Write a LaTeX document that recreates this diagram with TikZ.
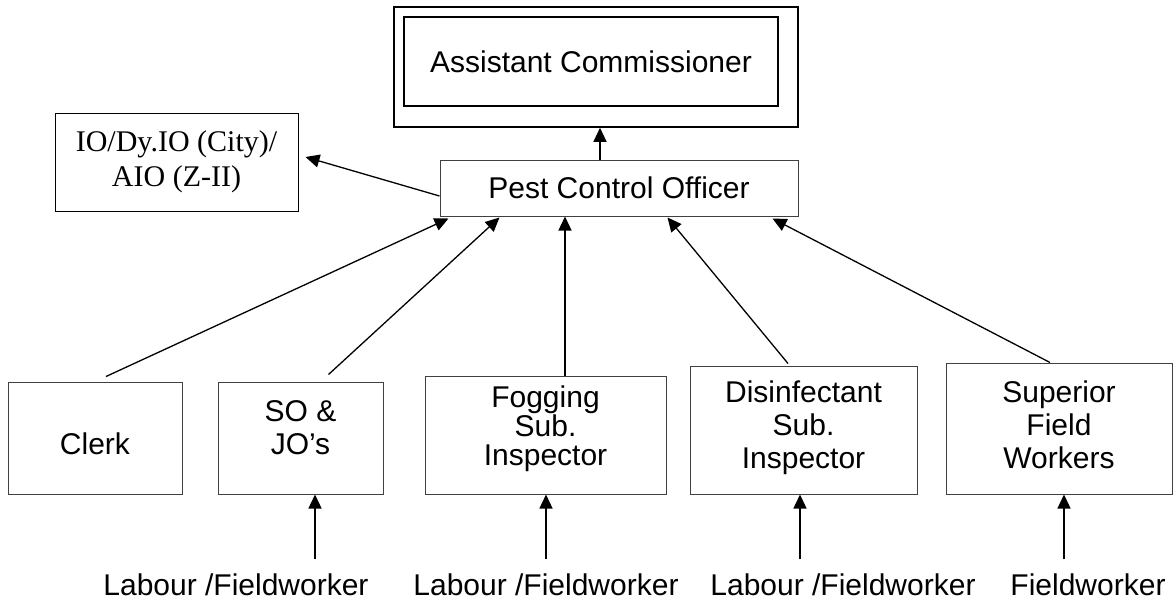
\documentclass[tikz,border=0pt]{standalone}
\usepackage{fontspec}
\setmainfont{Liberation Sans}
\newfontfamily\iofont{Liberation Serif}
\usetikzlibrary{arrows.meta,calc}
\begin{document}
\begin{tikzpicture}[x=1pt,y=-1pt,
  box/.style={draw=black!75,line width=1pt,inner sep=0pt,align=center,
    font=\fontsize{30}{33}\selectfont},
  acbox/.style={draw=black,line width=1.6pt,inner sep=0pt},
  arr/.style={line width=1.3pt,-{Triangle[length=14pt,width=13pt]}},
  lbl/.style={inner sep=0pt,anchor=base,font=\fontsize{30}{33}\selectfont}]
\useasboundingbox (0,0) rectangle (1176,605);
% top
\node[acbox,minimum width=404pt,minimum height=120pt] (acout) at (596,67) {};
\node[acbox,align=center,font=\fontsize{30}{33}\selectfont,
      minimum width=374pt,minimum height=89pt] (ac) at (591,61.5) {Assistant Commissioner};
\node[box,minimum width=358pt,minimum height=56pt] (pco) at (619,188) {Pest Control Officer};
\node[box,draw=black,font=\iofont\fontsize{30}{35}\selectfont,
      minimum width=243pt,minimum height=98pt] (io) at (176.5,162) {IO/Dy.IO (City)/\\AIO (Z-II)};
% bottom boxes
\node[box,minimum width=174pt,minimum height=112pt,text height=34pt] (clerk) at (95,438) {Clerk};
\node[box,minimum width=165pt,minimum height=112pt,text depth=21pt] (so) at (300.5,438) {SO \&\\JO’s};
\node[box,minimum width=241pt,minimum height=118pt,text depth=18pt,
      font=\fontsize{30}{29}\selectfont] (fog) at (545.5,435) {Fogging\\Sub.\\Inspector};
\node[box,minimum width=227pt,minimum height=128pt,text depth=10pt] (dis) at (803.5,430) {Disinfectant\\Sub.\\Inspector};
\node[box,minimum width=226pt,minimum height=131pt,text depth=7pt] (sup) at (1059,428.5) {Superior\\Field\\Workers};
% bottom labels
\node[lbl] (l1) at (236,595) {Labour /Fieldworker};
\node[lbl] (l2) at (546,595) {Labour /Fieldworker};
\node[lbl] (l3) at (843,595) {Labour /Fieldworker};
\node[lbl] (l4) at (1088,595) {Fieldworker};
\coordinate (t1) at (315,559);
\coordinate (t2) at (546,559);
\coordinate (t3) at (800,559);
\coordinate (t4) at (1064,559);
\draw[arr] (t1) -- (t1 |- so.south);
\draw[arr] (t2) -- (t2 |- fog.south);
\draw[arr] (t3) -- (t3 |- dis.south);
\draw[arr] (t4) -- (t4 |- sup.south);
% to PCO
\draw[arr] ($(clerk.north)+(11,-5)$) -- ($(pco.south west)+(9,2)$);
\draw[arr] ($(so.north)+(28,-7)$) -- ($(pco.south west)+(60,1)$);
\draw[arr] ($(fog.north)+(19.5,0)$) coordinate (f0) -- (f0 |- pco.south);
\draw[arr] ($(dis.north)+(-15.5,-2)$) -- ($(pco.south west)+(228,1)$);
\draw[arr] ($(sup.north)+(-9,0)$) -- ($(pco.south west)+(333,2)$);
% from PCO
\draw[arr] ($(pco.west)+(0,8)$) -- ($(io.east)+(7,-5)$);
\draw[arr] ($(pco.north)+(-19,0)$) coordinate (a0) -- (a0 |- acout.south);
\end{tikzpicture}
\end{document}
